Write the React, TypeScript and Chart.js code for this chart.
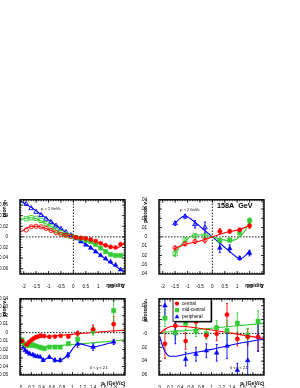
import React, { useEffect, useRef } from 'react';
import { Chart, registerables } from 'chart.js';

Chart.register(...registerables);
Chart.defaults.font.family = "'Liberation Sans', Arial, sans-serif";
Chart.defaults.color = '#000';

const RED = '#ff0000';
const GREEN = '#33cc33';
const BLUE = '#0000ff';

// ---------- Panel A: pion v1 vs rapidity ----------
const rapPos = [0.1, 0.3, 0.5, 0.7, 0.9, 1.1, 1.3, 1.5, 1.7, 1.9];
const rapNeg = [-1.9, -1.7, -1.5, -1.3, -1.1, -0.9, -0.7, -0.5, -0.3, -0.1];
const pionRapCentralPos = [-0.001, -0.002, -0.003, -0.005, -0.008, -0.012, -0.016, -0.019, -0.02, -0.014];
const pionRapCentralNeg = [0.013, 0.019, 0.02, 0.019, 0.016, 0.012, 0.008, 0.005, 0.003, 0.001];
const pionRapMidPos = [-0.001, -0.003, -0.006, -0.009, -0.014, -0.021, -0.028, -0.033, -0.035, -0.035];
const pionRapMidNeg = [0.034, 0.036, 0.035, 0.031, 0.025, 0.019, 0.012, 0.008, 0.004, 0.001];
const pionRapPeriPos = [-0.003, -0.009, -0.015, -0.021, -0.028, -0.035, -0.041, -0.047, -0.053, -0.062];
const pionRapPeriNeg = [0.062, 0.054, 0.047, 0.041, 0.034, 0.028, 0.021, 0.015, 0.009, 0.003];
const pionRapFitX = [-2.15, -1.75, -1.5, -1.0, -0.5, 0, 0.5, 1.0, 1.5, 1.75, 2.08];
const pionRapCentralFit = [0.009, 0.019, 0.02, 0.014, 0.005, 0, -0.005, -0.011, -0.019, -0.021, -0.011];
const pionRapMidFit = [0.032, 0.036, 0.034, 0.022, 0.008, 0, -0.007, -0.018, -0.032, -0.035, -0.034];
const pionRapPeriFit = [0.068, 0.057, 0.049, 0.032, 0.015, 0, -0.014, -0.031, -0.049, -0.057, -0.066];

// ---------- Panel B: proton v1 vs rapidity ----------
const protRapPos = [0.3, 0.7, 1.1, 1.5];
const protRapNeg = [-1.5, -1.1, -0.7, -0.3];
const protRapCentralPos = [0.006, 0.006, 0.0075, 0.012];
const protRapCentralPosErr = [0.003, 0.002, 0.002, 0.003];
const protRapCentralNeg = [-0.012, -0.0075, -0.005, -0.0035];
const protRapCentralNegErr = [0.002, 0.002, 0.002, 0.003];
const protRapMidPos = [-0.004, -0.0035, 0.0045, 0.0175];
const protRapMidPosErr = [0.002, 0.002, 0.003, 0.003];
const protRapMidNeg = [-0.018, -0.003, 0.001, 0.001];
const protRapMidNegErr = [0.003, 0.002, 0.002, 0.002];
const protRapPeriPos = [-0.012, -0.0125, -0.023, -0.0175];
const protRapPeriPosErr = [0.005, 0.004, 0.002, 0.003];
const protRapPeriNeg = [0.0145, 0.022, 0.0135, 0.01];
const protRapPeriNegErr = [0.002, 0.002, 0.004, 0.006];
const protRapCentralFitX = [-1.55, -1.1, -0.5, 0, 0.5, 1.1, 1.55];
const protRapCentralFit = [-0.013, -0.008, -0.0045, 0, 0.0045, 0.008, 0.013];
const protRapMidFitX = [-1.55, -1.3, -1.0, -0.7, -0.4, 0, 0.4, 0.7, 1.0, 1.3, 1.55];
const protRapMidFit = [-0.021, -0.01, -0.002, 0.002, 0.002, 0, -0.003, -0.004, -0.002, 0.006, 0.019];
const protRapPeriFitX = [-1.52, -1.3, -1.1, -0.8, -0.4, 0, 0.4, 0.8, 1.1, 1.3, 1.52];
const protRapPeriFit = [0.014, 0.02, 0.0225, 0.018, 0.009, 0, -0.009, -0.018, -0.0235, -0.021, -0.014];

// ---------- Panel C: pion v1 vs pt ----------
const pionPtCentralX = [0.02, 0.11, 0.16, 0.21, 0.25, 0.29, 0.33, 0.38, 0.45, 0.55, 0.66, 0.77, 0.92, 1.1, 1.4, 1.8];
const pionPtCentral = [-0.01, -0.014, -0.011, -0.0085, -0.0066, -0.0054, -0.0046, -0.0035, -0.004, -0.005, -0.0046, -0.0038, -0.0046, -0.001, 0.004, 0.01];
const pionPtCentralErr = [0, 0, 0, 0, 0, 0, 0, 0, 0.001, 0.001, 0.001, 0.001, 0.0015, 0.003, 0.005, 0.009];
const pionPtMidX = [0.02, 0.06, 0.11, 0.16, 0.21, 0.25, 0.3, 0.36, 0.4, 0.45, 0.55, 0.66, 0.76, 0.92, 1.1, 1.4, 1.8];
const pionPtMid = [-0.0085, -0.013, -0.015, -0.015, -0.014, -0.015, -0.016, -0.017, -0.018, -0.019, -0.017, -0.017, -0.017, -0.013, -0.008, 0.002, 0.026];
const pionPtMidErr = [0, 0, 0, 0, 0, 0, 0, 0, 0, 0.001, 0.001, 0.001, 0.001, 0.002, 0.004, 0.005, 0.012];
const pionPtPeriX = [0.02, 0.05, 0.08, 0.12, 0.17, 0.23, 0.27, 0.32, 0.37, 0.43, 0.55, 0.66, 0.76, 0.91, 1.1, 1.4, 1.8];
const pionPtPeri = [-0.0104, -0.017, -0.021, -0.023, -0.025, -0.026, -0.0275, -0.028, -0.0287, -0.0326, -0.029, -0.0326, -0.0326, -0.0267, -0.0132, -0.017, -0.011];
const pionPtPeriErr = [0, 0, 0, 0, 0, 0, 0, 0, 0, 0.0015, 0.0015, 0.002, 0.002, 0.003, 0.004, 0.004, 0.003];
const pionPtFitX = [0, 0.05, 0.1, 0.2, 0.3, 0.5, 0.8, 1.0, 1.5, 2.02];
const pionPtCentralFit = [-0.009, -0.013, -0.015, -0.01, -0.0065, -0.0045, -0.003, -0.002, 0.0008, 0.003];
const pionPtMidFit = [-0.008, -0.013, -0.015, -0.016, -0.0165, -0.0165, -0.015, -0.014, -0.0115, -0.0085];

// ---------- Panel D: proton v1 vs pt ----------
const protPtX = [0.1, 0.3, 0.5, 0.7, 0.9, 1.1, 1.3, 1.5, 1.7, 1.9];
const protPtCentral = [-0.015, 0.011, -0.011, 0.017, -0.003, -0.0005, 0.027, -0.008, -0.005, -0.005];
const protPtCentralErr = [0.021, 0.007, 0.012, 0.01, 0.005, 0.01, 0.016, 0.01, 0.012, 0.02];
const protPtMid = [0.022, 0.001, 0.0147, 0.0035, -0.0005, 0.0085, 0.004, 0.0147, -0.0024, 0.0176];
const protPtMidErr = [0.012, 0.01, 0.01, 0.008, 0.007, 0.01, 0.015, 0.015, 0.01, 0.015];
const protPtPeri = [0.04, 0.0, -0.037, -0.03, -0.025, -0.028, -0.018, -0.053, -0.039, -0.005];
const protPtPeriErr = [0.02, 0.015, 0.01, 0.01, 0.01, 0.012, 0.018, 0.01, 0.025, 0.021];
const protPtFitX = [0, 0.1, 0.2, 0.3, 0.5, 0.8, 1.0, 1.5, 2.02];
const protPtCentralFit = [0.0, 0.006, 0.0095, 0.0108, 0.01, 0.007, 0.005, -0.001, -0.0075];
const protPtMidFit = [0.001, 0.0017, 0.0025, 0.0032, 0.004, 0.006, 0.0075, 0.011, 0.0145];
const protPtPeriFitX = [0, 0.05, 0.1, 0.15, 0.2, 0.3, 0.5, 0.8, 1.0, 1.5, 2.02];
const protPtPeriFit = [-0.005, -0.017, -0.026, -0.031, -0.033, -0.033, -0.03, -0.026, -0.023, -0.015, -0.008];

// ---------- ticks & labels ----------
const rapTicks = [-2, -1.5, -1, -0.5, 0, 0.5, 1, 1.5, 2];
const rapTickLabels = ['-2', '-1.5', '-1', '-0.5', '0', '0.5', '1', '1.5', '2'];
const ptTicks = [0, 0.2, 0.4, 0.6, 0.8, 1, 1.2, 1.4, 1.6, 1.8, 2];
const ptTickLabels = ['0', '0.2', '0.4', '0.6', '0.8', '1', '1.2', '1.4', '1.6', '1.8', '2'];
const yTicksA = [-0.06, -0.04, -0.02, 0, 0.02, 0.04, 0.06];
const yLabelsA = ['-0.06', '-0.04', '-0.02', '0', '0.02', '0.04', '0.06'];
const yTicksB = [-0.04, -0.03, -0.02, -0.01, 0, 0.01, 0.02, 0.03, 0.04];
const yLabelsB = ['-0.04', '-0.03', '-0.02', '-0.01', '0', '0.01', '0.02', '0.03', '0.04'];
const yTicksC = [-0.05, -0.04, -0.03, -0.02, -0.01, 0, 0.01, 0.02, 0.03, 0.04];
const yLabelsC = ['-0.05', '-0.04', '-0.03', '-0.02', '-0.01', '0', '0.01', '0.02', '0.03', '0.04'];
const yTicksD = [-0.06, -0.04, -0.02, 0, 0.02, 0.04];
const yLabelsD = ['-0.06', '-0.04', '-0.02', '-0', '0.02', '0.04'];
const legendLabels = ['central', 'mid-central', 'peripheral'];

// axis ranges
const rapRange = [-2.15, 2.08];
const ptRangeC = [-0.02, 2.02];
const ptRangeD = [-0.015, 2.015];
const yRangeA = [-0.07, 0.07];
const yRangeB = [-0.04, 0.04];
const yRangeC = [-0.05, 0.04];
const yRangeD = [-0.06, 0.05];

const FONT = "'Liberation Sans', Arial, sans-serif";
const pts = (xs: number[], ys: number[]) => xs.map((x, i) => ({ x, y: ys[i] }));
const RADIUS: Record<string, number> = { circle: 2.1, rect: 3, triangle: 2.7 };

function markers(label: string, xs: number[], ys: number[], color: string, style: string, open: boolean, errs?: number[]) {
  return {
    type: 'scatter',
    label,
    data: pts(xs, ys),
    errors: errs,
    pointStyle: style,
    pointRadius: RADIUS[style],
    backgroundColor: open ? 'rgba(0,0,0,0)' : color,
    borderColor: color,
    pointBorderWidth: open ? 0.9 : 0.5,
    showLine: false,
  };
}

function curve(xs: number[], ys: number[], color: string, dash?: number[]) {
  return {
    type: 'scatter',
    label: '',
    data: pts(xs, ys),
    showLine: true,
    borderColor: color,
    backgroundColor: color,
    borderWidth: dash ? 0.9 : 1.1,
    borderDash: dash || [],
    pointRadius: 0,
    cubicInterpolationMode: dash ? 'default' : 'monotone',
    fill: false,
  };
}

const errorBars = {
  id: 'errorBars',
  beforeDatasetsDraw(chart: any) {
    const { ctx, chartArea: a, scales } = chart;
    ctx.save();
    ctx.beginPath();
    ctx.rect(a.left, a.top, a.width, a.height);
    ctx.clip();
    chart.data.datasets.forEach((ds: any) => {
      if (!ds.errors) return;
      ctx.strokeStyle = ds.borderColor;
      ctx.lineWidth = 0.9;
      ds.data.forEach((p: any, j: number) => {
        const e = ds.errors[j];
        if (!e) return;
        const px = scales.x.getPixelForValue(p.x);
        const y1 = scales.y.getPixelForValue(p.y - e);
        const y2 = scales.y.getPixelForValue(p.y + e);
        ctx.beginPath();
        ctx.moveTo(px, y1);
        ctx.lineTo(px, y2);
        ctx.moveTo(px - 1, y1);
        ctx.lineTo(px + 1, y1);
        ctx.moveTo(px - 1, y2);
        ctx.lineTo(px + 1, y2);
        ctx.stroke();
      });
    });
    ctx.restore();
  },
};

const framePlugin = {
  id: 'frame',
  afterDraw(chart: any, _args: any, opts: any) {
    const { ctx, chartArea: a, scales } = chart;
    const xs = scales.x;
    const ys = scales.y;
    ctx.save();
    ctx.strokeStyle = '#000';
    ctx.lineWidth = 0.8;
    const line = (x1: number, y1: number, x2: number, y2: number) => {
      ctx.beginPath();
      ctx.moveTo(x1, y1);
      ctx.lineTo(x2, y2);
      ctx.stroke();
    };
    const xTick = (v: number, len: number) => {
      const p = xs.getPixelForValue(v);
      if (p < a.left + 0.5 || p > a.right - 0.5) return;
      line(p, a.bottom, p, a.bottom - len);
      line(p, a.top, p, a.top + len);
    };
    const yTick = (v: number, len: number) => {
      const p = ys.getPixelForValue(v);
      if (p < a.top + 0.5 || p > a.bottom - 0.5) return;
      line(a.left, p, a.left + len, p);
      line(a.right, p, a.right - len, p);
    };
    const minor = (scale: any, step: number, fn: (v: number, l: number) => void) => {
      const start = Math.ceil(scale.min / step);
      const end = Math.floor(scale.max / step);
      for (let k = start; k <= end; k++) fn(k * step, 1.5);
    };
    minor(xs, opts.xMinor, xTick);
    minor(ys, opts.yMinor, yTick);
    xs.ticks.forEach((t: any) => xTick(t.value, 3));
    ys.ticks.forEach((t: any) => yTick(t.value, 3));
    ctx.lineWidth = 1.4;
    ctx.strokeRect(a.left, a.top, a.width, a.height);
    ctx.restore();
  },
};

const notesPlugin = {
  id: 'notes',
  afterDraw(chart: any, _args: any, opts: any) {
    const items = (opts && opts.items) || [];
    const { ctx, chartArea: a } = chart;
    ctx.save();
    items.forEach((it: any) => {
      ctx.font = `${it.bold ? 'bold ' : ''}${it.size}px ${FONT}`;
      ctx.fillStyle = '#000';
      ctx.textAlign = 'left';
      ctx.textBaseline = 'middle';
      ctx.fillText(it.text, a.left + it.dx, a.top + it.dy);
    });
    ctx.restore();
  },
};

function drawMarker(ctx: any, style: string, x: number, y: number, color: string) {
  ctx.fillStyle = color;
  ctx.beginPath();
  if (style === 'circle') {
    ctx.arc(x, y, 2.1, 0, Math.PI * 2);
  } else if (style === 'rect') {
    ctx.rect(x - 2.1, y - 2.1, 4.2, 4.2);
  } else {
    ctx.moveTo(x, y - 2.6);
    ctx.lineTo(x + 2.4, y + 1.6);
    ctx.lineTo(x - 2.4, y + 1.6);
    ctx.closePath();
  }
  ctx.fill();
}

const boxLegend = {
  id: 'boxLegend',
  afterDraw(chart: any, _args: any, opts: any) {
    if (!opts || !opts.entries) return;
    const { ctx, chartArea: a } = chart;
    const x = a.left + opts.dx;
    const y = a.top + opts.dy;
    ctx.save();
    ctx.fillStyle = '#000';
    ctx.fillRect(x + 1.2, y + 1.2, opts.w, opts.h);
    ctx.fillStyle = '#fff';
    ctx.fillRect(x, y, opts.w, opts.h);
    ctx.strokeStyle = '#000';
    ctx.lineWidth = 0.8;
    ctx.strokeRect(x, y, opts.w, opts.h);
    opts.entries.forEach((e: any, i: number) => {
      const cy = y + opts.rowTop + i * opts.rowGap;
      drawMarker(ctx, e.style, x + opts.markX, cy, e.color);
      ctx.fillStyle = '#000';
      ctx.font = `${opts.size}px ${FONT}`;
      ctx.textAlign = 'left';
      ctx.textBaseline = 'middle';
      ctx.fillText(e.label, x + opts.textX, cy);
    });
    ctx.restore();
  },
};

type PanelSpec = {
  box: { left: number; top: number; w: number; h: number };
  yAxisWidth: number;
  xAxisHeight: number;
  xRange: number[];
  yRange: number[];
  xTicks: number[];
  xLabels: string[];
  yTicks: number[];
  yLabels: string[];
  xTitle: string;
  yTitle: string;
  xMinor: number;
  yMinor: number;
  datasets: any[];
  notes?: any[];
  legend?: any;
};

function buildConfig(p: PanelSpec): any {
  return {
    type: 'scatter',
    data: { datasets: p.datasets },
    plugins: [errorBars, framePlugin, notesPlugin, boxLegend],
    options: {
      responsive: false,
      maintainAspectRatio: false,
      animation: false,
      devicePixelRatio: 1,
      events: [],
      layout: { padding: { top: 6, right: 10, left: 0, bottom: 0 } },
      plugins: {
        legend: { display: false },
        tooltip: { enabled: false },
        frame: { xMinor: p.xMinor, yMinor: p.yMinor },
        notes: { items: p.notes || [] },
        boxLegend: p.legend || {},
      },
      scales: {
        x: {
          type: 'linear',
          position: 'bottom',
          min: p.xRange[0],
          max: p.xRange[1],
          grid: { display: false },
          border: { display: false },
          afterBuildTicks: (s: any) => {
            s.ticks = p.xTicks.map((v) => ({ value: v }));
          },
          afterFit: (s: any) => {
            s.height = p.xAxisHeight;
          },
          ticks: {
            autoSkip: false,
            maxRotation: 0,
            minRotation: 0,
            padding: 1.5,
            color: '#000',
            font: { size: 4.6 },
            callback: (_v: any, i: number) => p.xLabels[i],
          },
          title: {
            display: true,
            text: p.xTitle,
            align: 'end',
            color: '#000',
            font: { size: 5.2, weight: 'bold' },
            padding: { top: 0, bottom: 1 },
          },
        },
        y: {
          type: 'linear',
          position: 'left',
          min: p.yRange[0],
          max: p.yRange[1],
          grid: { display: false },
          border: { display: false },
          afterBuildTicks: (s: any) => {
            s.ticks = p.yTicks.map((v) => ({ value: v }));
          },
          afterFit: (s: any) => {
            s.width = p.yAxisWidth;
          },
          ticks: {
            autoSkip: false,
            padding: 4,
            color: '#000',
            font: { size: 4.6 },
            callback: (_v: any, i: number) => p.yLabels[i],
          },
          title: {
            display: true,
            text: p.yTitle,
            align: 'end',
            color: '#000',
            font: { size: 5.2, weight: 'bold' },
            padding: { top: 1, bottom: 0 },
          },
        },
      },
    },
  };
}

function Panel({ spec }: { spec: PanelSpec }) {
  const ref = useRef<HTMLCanvasElement>(null);
  useEffect(() => {
    const chart = new Chart(ref.current as HTMLCanvasElement, buildConfig(spec));
    return () => chart.destroy();
  }, []);
  const b = spec.box;
  return (
    <div style={{ position: 'absolute', left: b.left, top: b.top, width: b.w, height: b.h }}>
      <canvas ref={ref} width={b.w} height={b.h} style={{ width: b.w, height: b.h, display: 'block' }} />
    </div>
  );
}

const zeroH = (r: number[]) => curve([r[0], r[1]], [0, 0], '#000', [1.5, 1.5]);
const zeroV = (r: number[]) => curve([0, 0], [r[0], r[1]], '#000', [1.5, 1.5]);

const panelA: PanelSpec = {
  box: { left: 0, top: 193, w: 135, h: 97 },
  yAxisWidth: 20,
  xAxisHeight: 16,
  xRange: rapRange,
  yRange: yRangeA,
  xTicks: rapTicks,
  xLabels: rapTickLabels,
  yTicks: yTicksA,
  yLabels: yLabelsA,
  xTitle: 'rapidity',
  yTitle: 'pion v₁',
  xMinor: 0.1,
  yMinor: 0.005,
  datasets: [
    markers('central', rapPos, pionRapCentralPos, RED, 'circle', false),
    markers('central reflected', rapNeg, pionRapCentralNeg, RED, 'circle', true),
    markers('mid-central', rapPos, pionRapMidPos, GREEN, 'rect', false),
    markers('mid-central reflected', rapNeg, pionRapMidNeg, GREEN, 'rect', true),
    markers('peripheral', rapPos, pionRapPeriPos, BLUE, 'triangle', false),
    markers('peripheral reflected', rapNeg, pionRapPeriNeg, BLUE, 'triangle', true),
    curve(pionRapFitX, pionRapCentralFit, RED),
    curve(pionRapFitX, pionRapMidFit, GREEN),
    curve(pionRapFitX, pionRapPeriFit, BLUE),
    zeroH(rapRange),
    zeroV(yRangeA),
  ],
  notes: [{ text: 'pₜ < 2 GeV/c', dx: 21, dy: 9, size: 3.6 }],
};

const panelB: PanelSpec = {
  box: { left: 141, top: 193, w: 133, h: 97 },
  yAxisWidth: 18,
  xAxisHeight: 16,
  xRange: rapRange,
  yRange: yRangeB,
  xTicks: rapTicks,
  xLabels: rapTickLabels,
  yTicks: yTicksB,
  yLabels: yLabelsB,
  xTitle: 'rapidity',
  yTitle: 'proton v₁',
  xMinor: 0.1,
  yMinor: 0.0025,
  datasets: [
    markers('central', protRapPos, protRapCentralPos, RED, 'circle', false, protRapCentralPosErr),
    markers('central reflected', protRapNeg, protRapCentralNeg, RED, 'circle', true, protRapCentralNegErr),
    markers('mid-central', protRapPos, protRapMidPos, GREEN, 'rect', false, protRapMidPosErr),
    markers('mid-central reflected', protRapNeg, protRapMidNeg, GREEN, 'rect', true, protRapMidNegErr),
    markers('peripheral', protRapPos, protRapPeriPos, BLUE, 'triangle', false, protRapPeriPosErr),
    markers('peripheral reflected', protRapNeg, protRapPeriNeg, BLUE, 'triangle', true, protRapPeriNegErr),
    curve(protRapCentralFitX, protRapCentralFit, RED),
    curve(protRapMidFitX, protRapMidFit, GREEN),
    curve(protRapPeriFitX, protRapPeriFit, BLUE),
    zeroH(rapRange),
    zeroV(yRangeB),
  ],
  notes: [
    { text: 'pₜ < 2 GeV/c', dx: 21, dy: 10, size: 3.6 },
    { text: '158A  GeV', dx: 58, dy: 6.5, size: 7.2, bold: true },
  ],
};

const pionPeriLine = markers('peripheral', pionPtPeriX, pionPtPeri, BLUE, 'triangle', false, pionPtPeriErr) as any;
pionPeriLine.showLine = true;
pionPeriLine.borderWidth = 1.1;
pionPeriLine.tension = 0.3;

const panelC: PanelSpec = {
  box: { left: 0, top: 292, w: 135, h: 96 },
  yAxisWidth: 20,
  xAxisHeight: 13,
  xRange: ptRangeC,
  yRange: yRangeC,
  xTicks: ptTicks,
  xLabels: ptTickLabels,
  yTicks: yTicksC,
  yLabels: yLabelsC,
  xTitle: 'pₜ (GeV/c)',
  yTitle: 'pion v₁',
  xMinor: 0.05,
  yMinor: 0.0025,
  datasets: [
    markers('central', pionPtCentralX, pionPtCentral, RED, 'circle', false, pionPtCentralErr),
    markers('mid-central', pionPtMidX, pionPtMid, GREEN, 'rect', false, pionPtMidErr),
    pionPeriLine,
    curve(pionPtFitX, pionPtCentralFit, RED),
    curve(pionPtFitX, pionPtMidFit, GREEN),
    zeroH(ptRangeC),
  ],
  notes: [{ text: '0 < y < 2.1', dx: 70, dy: 69, size: 3.8 }],
};

const panelD: PanelSpec = {
  box: { left: 141, top: 292, w: 133, h: 96 },
  yAxisWidth: 18,
  xAxisHeight: 13,
  xRange: ptRangeD,
  yRange: yRangeD,
  xTicks: ptTicks,
  xLabels: ptTickLabels,
  yTicks: yTicksD,
  yLabels: yLabelsD,
  xTitle: 'pₜ (GeV/c)',
  yTitle: 'proton v₁',
  xMinor: 0.05,
  yMinor: 0.005,
  datasets: [
    markers('central', protPtX, protPtCentral, RED, 'circle', false, protPtCentralErr),
    markers('mid-central', protPtX, protPtMid, GREEN, 'rect', false, protPtMidErr),
    markers('peripheral', protPtX, protPtPeri, BLUE, 'triangle', false, protPtPeriErr),
    curve(protPtFitX, protPtCentralFit, RED),
    curve(protPtFitX, protPtMidFit, GREEN),
    curve(protPtPeriFitX, protPtPeriFit, BLUE),
    zeroH(ptRangeD),
  ],
  notes: [{ text: '0 < y < 2.1', dx: 71, dy: 69, size: 3.8 }],
  legend: {
    dx: 14,
    dy: 0.5,
    w: 38,
    h: 22,
    rowTop: 4.3,
    rowGap: 6.6,
    markX: 4,
    textX: 9,
    size: 4.6,
    entries: [
      { label: legendLabels[0], color: RED, style: 'circle' },
      { label: legendLabels[1], color: GREEN, style: 'rect' },
      { label: legendLabels[2], color: BLUE, style: 'triangle' },
    ],
  },
};

export default function App() {
  return (
    <div style={{ position: 'absolute', left: 0, top: 0, width: 300, height: 388, background: '#fff' }}>
      <Panel spec={panelA} />
      <Panel spec={panelB} />
      <Panel spec={panelC} />
      <Panel spec={panelD} />
    </div>
  );
}
